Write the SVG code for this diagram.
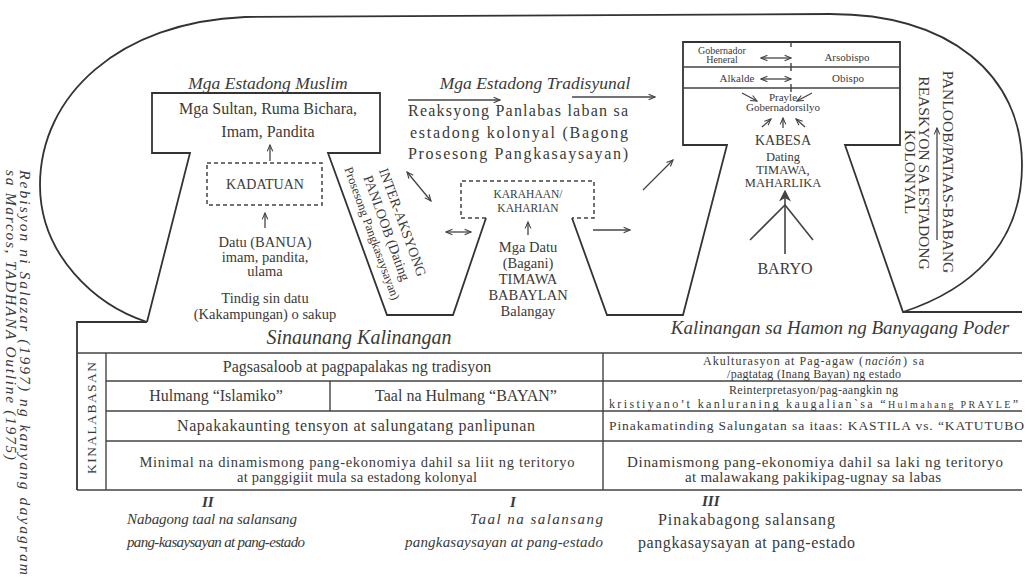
<svg xmlns="http://www.w3.org/2000/svg" width="1026" height="581" viewBox="0 0 1026 581">
<style>
.t{font-family:"Liberation Serif","Times New Roman",serif;fill:#3a3a3a;}
.i{font-style:italic;}
.m{text-anchor:middle;}
.ln{fill:none;stroke:#333;stroke-width:1.8;stroke-linejoin:miter;}
.tb{fill:none;stroke:#444;stroke-width:1.4;}
.ds{fill:none;stroke:#444;stroke-width:1.5;stroke-dasharray:4 3;}
.ar{fill:none;stroke:#444;stroke-width:1.3;marker-end:url(#ah);}
.da{fill:none;stroke:#444;stroke-width:1.3;marker-end:url(#ah);marker-start:url(#ah);}
</style>
<defs>
<marker id="ah" viewBox="0 0 10 10" refX="9" refY="5" markerWidth="8" markerHeight="8" orient="auto-start-reverse" markerUnits="userSpaceOnUse">
<path d="M1,1.5 L9,5 L1,8.5" fill="none" stroke="#444" stroke-width="1.4"/>
</marker>
<marker id="ahf" viewBox="0 0 10 10" refX="8" refY="5" markerWidth="12" markerHeight="12" orient="auto" markerUnits="userSpaceOnUse">
<path d="M0,0 L10,5 L0,10 L3,5 Z" fill="#444"/>
</marker>
</defs>

<!-- side note -->
<g id="note" class="t i" font-size="15.5">
<text transform="translate(20,170) rotate(90)" textLength="405" lengthAdjust="spacing">Rebisyon ni Salazar (1997) ng kanyang dayagram</text>
<text transform="translate(6,170) rotate(90)" textLength="290" lengthAdjust="spacing">sa Marcos, TADHANA Outline (1975)</text>
</g>

<!-- outline -->
<g id="outline">
<path class="ln" d="M245,17 C120,22 40,95 40,185 C40,255 95,305 147,322"/>
<path class="ln" d="M245,17 L830,14"/>
<path class="ln" d="M830,14 C950,14 1022,75 1022,165 C1022,245 970,290 903,312"/>
<path class="ln" d="M147,322 L190,153 L152,153 L152,93 L380,93 L380,153 L328,153 L387,315 L453,315 L486,218"/>
<path class="ln" d="M572,218 L607,315 L683,315 L727,145 L683,145 L683,42 L900,42 L900,145 L845,145 L903,312 L1022,312"/>
<path class="ln" d="M147,322 L77,322 L77,490"/>
</g>

<!-- Muslim node -->
<g id="node-muslim" class="t">
<text class="i m" x="268" y="89" font-size="17.5">Mga Estadong Muslim</text>
<text class="m" x="268" y="114" font-size="16">Mga Sultan, Ruma Bichara,</text>
<text class="m" x="268" y="137" font-size="16">Imam, Pandita</text>
</g>
<g id="node-kadatuan" class="t">
<rect class="ds" x="207" y="163" width="115" height="42"/>
<text class="m" x="265" y="189" font-size="14">KADATUAN</text>
</g>
<g id="node-datu" class="t m" font-size="14.5">
<text x="265" y="247">Datu (BANUA)</text>
<text x="265" y="262">imam, pandita,</text>
<text x="265" y="276">ulama</text>
<text x="265" y="303">Tindig sin datu</text>
<text x="265" y="319">(Kakampungan) o sakup</text>
</g>

<!-- Inter-aksyong -->
<g id="node-interaksyon" class="t m" transform="translate(387,228) rotate(70)">
<text x="0" y="-12" font-size="14">INTER-AKSYONG</text>
<text x="0" y="5" font-size="14">PANLOOB (Dating</text>
<text x="0" y="20" font-size="12.5">Prosesong Pangkasaysayan)</text>
</g>

<!-- Tradisyunal node -->
<g id="node-tradisyunal" class="t">
<text class="i m" x="535" y="89" font-size="17.5">Mga Estadong Tradisyunal</text>
<text x="408" y="116" font-size="16" textLength="220" lengthAdjust="spacing">Reaksyong Panlabas laban sa</text>
<text x="410" y="138" font-size="16" textLength="218" lengthAdjust="spacing">estadong kolonyal (Bagong</text>
<text x="408" y="159" font-size="16" textLength="220" lengthAdjust="spacing">Prosesong Pangkasaysayan)</text>
</g>
<g id="node-karahaan" class="t">
<path class="ds" d="M486,218 H461 V181 H594 V218 H572"/>
<text class="m" x="528" y="198" font-size="11.5">KARAHAAN/</text>
<text class="m" x="528" y="212" font-size="11.5">KAHARIAN</text>
</g>
<g id="node-mgadatu" class="t m" font-size="14.5">
<text x="528" y="252">Mga Datu</text>
<text x="528" y="268">(Bagani)</text>
<text x="528" y="284">TIMAWA</text>
<text x="528" y="300">BABAYLAN</text>
<text x="528" y="316">Balangay</text>
</g>

<!-- Colonial node -->
<g id="node-kolonyal" class="t">
<path class="tb" d="M683,67 H900 M683,88 H900"/>
<path class="tb" d="M791,42 V47 M791,63 V71 M791,84 V92"/>
<text class="m" x="722" y="54" font-size="10">Gobernador</text>
<text class="m" x="722" y="63" font-size="10">Heneral</text>
<text class="m" x="847" y="61" font-size="11">Arsobispo</text>
<text class="m" x="737" y="82" font-size="11">Alkalde</text>
<text class="m" x="848" y="82" font-size="11">Obispo</text>
<text class="m" x="783" y="101" font-size="11">Prayle</text>
<text class="m" x="783" y="111" font-size="11">Gobernadorsilyo</text>
<text class="m" x="783" y="145" font-size="14">KABESA</text>
<text class="m" x="783" y="161" font-size="12.5">Dating</text>
<text class="m" x="783" y="174" font-size="12.5">TIMAWA,</text>
<text class="m" x="783" y="187" font-size="12.5">MAHARLIKA</text>
</g>
<g id="node-baryo" class="t">
<text class="m" x="785" y="274" font-size="16">BARYO</text>
</g>
<g id="node-reaksyon" class="t m" font-size="15.5">
<text transform="translate(943,172) rotate(90)">PANLOOB/PATAAS-BABANG</text>
<text transform="translate(919,173) rotate(90)">REASKYON SA ESTADONG</text>
<text transform="translate(905,172) rotate(90)">KOLONYAL</text>
</g>

<!-- connectors -->
<g id="connectors">
<path class="ar" d="M270,161 V145"/>
<path class="ar" d="M265,228 V213"/>
<path class="ar" d="M528,235 V222"/>
<path class="ar" d="M408,100 H500"/>
<path class="ar" d="M572,97 H655"/>
<path class="ar" d="M593,230 H630"/>
<path class="ar" d="M643,190 L673,160"/>
<path class="da" d="M407,172 L431,201"/>
<path class="da" d="M446,232 H471"/>
<path class="da" d="M761,58 H791"/>
<path class="da" d="M761,79 H791"/>
<path class="ar" d="M742,93 L757,101"/>
<path class="ar" d="M812,93 L797,101"/>
<path class="ar" d="M762,127 L771,119"/>
<path class="ar" d="M783,128 V118"/>
<path class="ar" d="M805,127 L796,119"/>
<path fill="none" stroke="#444" stroke-width="1.6" marker-end="url(#ahf)" d="M785,254 V192"/>
<path fill="none" stroke="#444" stroke-width="1.6" d="M750,240 L785,205 L813,240"/>
<path class="ar" d="M937,240 V128"/>
</g>

<!-- table -->
<g id="table" class="t">
<path class="tb" d="M77,353 H1022 M106,381 H1022 M106,411 H1022 M106,441 H1022 M77,490 H1022 M106,353 V490 M603,353 V490 M330,381 V411"/>
<text class="i m" x="359" y="344" font-size="20">Sinaunang Kalinangan</text>
<text class="i m" x="840" y="334" font-size="19">Kalinangan sa Hamon ng Banyagang Poder</text>
<text class="m" transform="translate(96,418) rotate(-90)" font-size="13.5" textLength="112" lengthAdjust="spacing">KINALABASAN</text>
<text class="m" x="357" y="372" font-size="16">Pagsasaloob at pagpapalakas ng tradisyon</text>
<text class="m" x="216" y="401" font-size="16">Hulmang “Islamiko”</text>
<text class="m" x="466" y="401" font-size="16">Taal na Hulmang “BAYAN”</text>
<text class="m" x="356" y="431" font-size="16" textLength="358" lengthAdjust="spacing">Napakakaunting tensyon at salungatang panlipunan</text>
<text class="m" x="357" y="467" font-size="14.5" textLength="435" lengthAdjust="spacing">Minimal na dinamismong pang-ekonomiya dahil sa liit ng teritoryo</text>
<text class="m" x="357" y="482" font-size="14.5" textLength="240" lengthAdjust="spacing">at panggigiit mula sa estadong kolonyal</text>
<text x="703" y="364.5" font-size="12" textLength="160" lengthAdjust="spacing">Akulturasyon at Pag-agaw (</text>
<text class="i" x="865" y="364.5" font-size="12" textLength="36" lengthAdjust="spacing">nación</text>
<text x="903" y="364.5" font-size="12" textLength="21" lengthAdjust="spacing">) sa</text>
<text x="727" y="378" font-size="12" textLength="174" lengthAdjust="spacing">/pagtatag (Inang Bayan) ng estado</text>
<text x="729" y="393.5" font-size="12" textLength="169" lengthAdjust="spacing">Reinterpretasyon/pag-aangkin ng</text>
<text x="609" y="407.5" font-size="12" textLength="409" lengthAdjust="spacing">kristiyano’t kanluraning kaugalian`sa “<tspan font-size="10">Hulmahang PRAYLE</tspan>”</text>
<text x="609" y="430" font-size="13.5" textLength="415" lengthAdjust="spacing">Pinakamatinding Salungatan sa itaas:  KASTILA vs. “KATUTUBO</text>
<text x="627" y="467" font-size="15" textLength="376" lengthAdjust="spacing">Dinamismong pang-ekonomiya dahil sa laki ng teritoryo</text>
<text x="685" y="482" font-size="15" textLength="256" lengthAdjust="spacing">at malawakang pakikipag-ugnay sa labas</text>
</g>

<!-- bottom labels -->
<g id="label-II" class="t i">
<text x="202" y="507" font-size="15" font-weight="bold">II</text>
<text x="127" y="524" font-size="15" textLength="170" lengthAdjust="spacing">Nabagong taal na salansang</text>
<text x="127" y="547" font-size="15" textLength="178" lengthAdjust="spacing">pang-kasaysayan at pang-estado</text>
</g>
<g id="label-I" class="t i">
<text x="510" y="507" font-size="15" font-weight="bold">I</text>
<text x="470" y="524" font-size="15" textLength="133" lengthAdjust="spacing">Taal na salansang</text>
<text x="405" y="547" font-size="15" textLength="198" lengthAdjust="spacing">pangkasaysayan at pang-estado</text>
</g>
<g id="label-III" class="t">
<text class="i" x="702" y="506" font-size="15" font-weight="bold">III</text>
<text x="658" y="525" font-size="16" textLength="177" lengthAdjust="spacing">Pinakabagong salansang</text>
<text x="638" y="548" font-size="16" textLength="217" lengthAdjust="spacing">pangkasaysayan at pang-estado</text>
</g>
</svg>
